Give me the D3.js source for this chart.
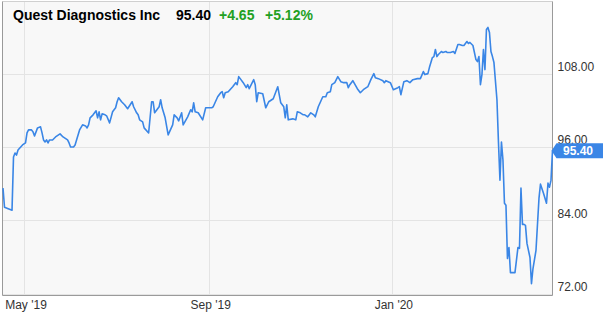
<!DOCTYPE html>
<html>
<head>
<meta charset="utf-8">
<script src="https://cdnjs.cloudflare.com/ajax/libs/d3/7.8.5/d3.min.js"></script>
<style>
  body { margin: 0; background: #fff; }
  svg { display: block; font-family: "Liberation Sans", Arial, sans-serif; }
</style>
</head>
<body>
<svg id="chart" width="603" height="316"></svg>
<script>
const tickerName = "Quest Diagnostics Inc"
const lastPrice = "95.40"
const priceChange = "+4.65"
const pctChange = "+5.12%"

const yTicks = [72, 84, 96, 108]
const xTicks = ["2019-05-01", "2019-09-01", "2020-01-01"]
const xTickLabels = ["May '19", "Sep '19", "Jan '20"]

// daily closes
const dates = [
  "2019-04-17","2019-04-18","2019-04-23","2019-04-24","2019-04-25","2019-04-26","2019-04-27","2019-04-30",
  "2019-05-02","2019-05-03","2019-05-04","2019-05-06","2019-05-07","2019-05-08","2019-05-10","2019-05-12",
  "2019-05-13","2019-05-14","2019-05-15","2019-05-16","2019-05-17","2019-05-18","2019-05-20","2019-05-22",
  "2019-05-24","2019-05-25","2019-05-27","2019-05-30","2019-05-31","2019-06-01","2019-06-03","2019-06-04",
  "2019-06-05","2019-06-07","2019-06-09","2019-06-11","2019-06-12","2019-06-13","2019-06-14","2019-06-16",
  "2019-06-18","2019-06-19","2019-06-20","2019-06-21","2019-06-22","2019-06-24","2019-06-25","2019-06-27",
  "2019-06-29","2019-07-01","2019-07-02","2019-07-03","2019-07-05","2019-07-07","2019-07-09","2019-07-12",
  "2019-07-13","2019-07-15","2019-07-16","2019-07-17","2019-07-19","2019-07-20","2019-07-23","2019-07-25",
  "2019-07-26","2019-07-27","2019-07-28","2019-07-30","2019-07-31","2019-08-01","2019-08-03","2019-08-05",
  "2019-08-08","2019-08-09","2019-08-11","2019-08-12","2019-08-14","2019-08-15","2019-08-18","2019-08-20",
  "2019-08-21","2019-08-22","2019-08-23","2019-08-25","2019-08-28","2019-08-30","2019-09-03","2019-09-04",
  "2019-09-07","2019-09-09","2019-09-10","2019-09-11","2019-09-12","2019-09-14","2019-09-17","2019-09-19",
  "2019-09-20","2019-09-21","2019-09-22","2019-09-24","2019-09-26","2019-09-27","2019-09-28","2019-10-01",
  "2019-10-02","2019-10-03","2019-10-04","2019-10-07","2019-10-09","2019-10-11","2019-10-13","2019-10-14",
  "2019-10-17","2019-10-19","2019-10-21","2019-10-22","2019-10-23","2019-10-24","2019-10-27","2019-10-29",
  "2019-10-30","2019-11-01","2019-11-03","2019-11-04","2019-11-06","2019-11-08","2019-11-10","2019-11-11",
  "2019-11-13","2019-11-16","2019-11-18","2019-11-19","2019-11-21","2019-11-22","2019-11-24","2019-11-26",
  "2019-11-28","2019-11-30","2019-12-02","2019-12-03","2019-12-04","2019-12-06","2019-12-09","2019-12-11",
  "2019-12-13","2019-12-16","2019-12-18","2019-12-20","2019-12-21","2019-12-23","2019-12-26","2019-12-27",
  "2019-12-28","2019-12-31","2020-01-02","2020-01-05","2020-01-06","2020-01-07","2020-01-09","2020-01-11",
  "2020-01-13","2020-01-15","2020-01-18","2020-01-20","2020-01-22","2020-01-23","2020-01-25","2020-01-26",
  "2020-01-28","2020-01-29","2020-01-30","2020-01-31","2020-02-01","2020-02-03","2020-02-04","2020-02-06",
  "2020-02-07","2020-02-09","2020-02-11","2020-02-12","2020-02-14","2020-02-15","2020-02-17","2020-02-18",
  "2020-02-20","2020-02-21","2020-02-22","2020-02-24","2020-02-25","2020-02-26","2020-02-27","2020-02-28",
  "2020-02-29","2020-03-01","2020-03-02","2020-03-03","2020-03-04","2020-03-05","2020-03-06","2020-03-07",
  "2020-03-08","2020-03-09","2020-03-11","2020-03-12","2020-03-13","2020-03-14","2020-03-15","2020-03-16",
  "2020-03-17","2020-03-18","2020-03-19","2020-03-20","2020-03-22","2020-03-23","2020-03-25","2020-03-26",
  "2020-03-27","2020-03-28","2020-03-29","2020-03-30","2020-03-31","2020-04-02","2020-04-03","2020-04-04",
  "2020-04-06","2020-04-08","2020-04-09","2020-04-11","2020-04-13","2020-04-14","2020-04-15","2020-04-16",
  "2020-04-17"
]
const prices = [
  89.26, 86.14, 85.64, 94.36, 95.01, 94.68, 95.51, 96.33,
  96.66, 98.30, 98.79, 98.79, 98.47, 97.81, 99.12, 99.29,
  98.30, 97.15, 96.82, 97.15, 96.66, 97.15, 97.15, 97.64,
  97.97, 98.14, 97.64, 97.15, 96.66, 96.00, 96.00, 96.33,
  97.15, 98.79, 99.62, 99.45, 99.12, 99.62, 100.77, 101.26,
  101.92, 100.77, 101.75, 100.44, 101.42, 101.26, 101.10, 99.94,
  101.75, 102.41, 103.40, 104.05, 103.40, 102.90, 102.25, 103.40,
  102.58, 101.59, 101.26, 100.44, 100.11, 99.12, 98.30, 103.40,
  103.40, 101.59, 101.92, 102.58, 103.73, 102.41, 100.77, 97.97,
  99.62, 101.26, 100.77, 100.27, 101.59, 99.62, 100.93, 102.08,
  101.75, 103.23, 101.75, 101.59, 100.44, 102.41, 102.41, 102.58,
  104.22, 104.88, 105.04, 104.05, 104.88, 105.04, 105.86, 106.52,
  106.19, 107.51, 107.18, 106.52, 105.70, 106.19, 105.53, 107.01,
  106.19, 103.40, 104.88, 104.71, 102.41, 103.40, 103.73, 103.89,
  105.86, 103.23, 102.58, 100.77, 102.90, 100.44, 100.60, 100.44,
  101.75, 101.59, 101.26, 101.26, 100.93, 101.59, 101.26, 100.93,
  102.58, 104.22, 104.22, 104.88, 105.04, 106.19, 106.52, 107.51,
  106.68, 106.52, 106.52, 105.70, 106.19, 106.85, 105.53, 104.88,
  105.37, 105.86, 107.01, 108.00, 107.34, 107.18, 106.85, 106.52,
  106.85, 106.52, 105.37, 105.70, 105.86, 104.55, 106.68, 106.85,
  106.52, 107.01, 107.18, 107.18, 108.33, 107.84, 108.00, 108.99,
  110.63, 110.79, 111.95, 110.79, 111.12, 111.62, 111.45, 111.62,
  111.45, 111.45, 111.62, 111.29, 112.77, 112.77, 112.60, 112.60,
  113.26, 112.93, 113.10, 112.60, 111.45, 110.30, 109.97, 110.79,
  106.19, 107.84, 111.95, 108.66, 115.23, 115.56, 114.74, 111.62,
  110.79, 109.81, 103.73, 96.82, 90.57, 96.82, 93.86, 86.79,
  86.46, 77.75, 79.56, 75.45, 75.45, 75.45, 79.56, 79.40,
  89.26, 83.34, 83.34, 83.18, 80.22, 77.92, 73.64, 76.11,
  79.07, 87.62, 89.92, 88.44, 86.79, 90.08, 89.42, 90.57,
  95.40
]

const width = 603, height = 316
const plot = { left: 2.5, right: 552.5, top: 1.5, bottom: 295.5 }
const lineColor = "#3a86e6"

const parse = d3.timeParse("%Y-%m-%d")
const data = dates.map((d, i) => ({ date: parse(d), price: prices[i] }))

const svg = d3.select("#chart")

const x = d3.scaleTime()
  .domain([new Date(2019, 3, 16, 16), new Date(2020, 3, 17)])
  .range([plot.left, plot.right])

const y = d3.scaleLinear()
  .domain([71.7, 119.8])
  .range([plot.bottom, plot.top])

// plot background
svg.append("rect")
  .attr("x", plot.left).attr("y", plot.top)
  .attr("width", plot.right - plot.left)
  .attr("height", plot.bottom - plot.top)
  .attr("fill", "#f8f8f8")

// grid
svg.append("g").selectAll("line")
  .data(yTicks)
  .enter().append("line")
  .attr("x1", plot.left).attr("x2", plot.right)
  .attr("y1", d => Math.round(y(d)) + 0.5)
  .attr("y2", d => Math.round(y(d)) + 0.5)
  .attr("stroke", "#e4e4e4")

svg.append("g").selectAll("line")
  .data(xTicks)
  .enter().append("line")
  .attr("y1", plot.top).attr("y2", plot.bottom)
  .attr("x1", d => Math.round(x(parse(d))) + 0.5)
  .attr("x2", d => Math.round(x(parse(d))) + 0.5)
  .attr("stroke", "#e4e4e4")

// frame
svg.append("line")
  .attr("x1", plot.left).attr("x2", plot.right)
  .attr("y1", plot.top).attr("y2", plot.top)
  .attr("stroke", "#d0d0d0")
svg.append("path")
  .attr("d", `M${plot.left},${plot.top}V${plot.bottom}H${plot.right}V${plot.top}`)
  .attr("fill", "none")
  .attr("stroke", "#9a9a9a")

// price line
const line = d3.line()
  .x(d => x(d.date))
  .y(d => y(d.price))

svg.append("path")
  .datum(data)
  .attr("d", line)
  .attr("fill", "none")
  .attr("stroke", lineColor)
  .attr("stroke-width", 1.6)
  .attr("stroke-linejoin", "round")

// y axis on the right
const yAxis = d3.axisRight(y)
  .tickValues(yTicks)
  .tickSize(0)
  .tickPadding(5)
  .tickFormat(d3.format(".2f"))

svg.append("g")
  .attr("transform", "translate(" + plot.right + ",0)")
  .call(yAxis)
  .call(g => g.select(".domain").remove())
  .call(g => g.selectAll("text")
    .attr("y", -7)
    .attr("fill", "#333")
    .style("font-size", "12px")
    .style("font-family", "Liberation Sans, Arial, sans-serif"))

// x axis
const xAxis = d3.axisBottom(x)
  .tickValues(xTicks.map(parse))
  .tickSize(0)
  .tickPadding(5)
  .tickFormat((d, i) => xTickLabels[i])

svg.append("g")
  .attr("transform", "translate(1.5," + plot.bottom + ")")
  .call(xAxis)
  .call(g => g.select(".domain").remove())
  .call(g => g.selectAll("text")
    .attr("fill", "#333")
    .style("font-size", "12px")
    .style("font-family", "Liberation Sans, Arial, sans-serif"))

// last price tag (covers the 96.00 label like in the original)
const tagY = y(prices[prices.length - 1])
svg.append("path")
  .attr("d", `M${plot.right - 1},${tagY} L${plot.right + 4},${tagY - 7.5} H${width} V${tagY + 7.5} H${plot.right + 4} Z`)
  .attr("fill", lineColor)
svg.append("text")
  .attr("x", 578)
  .attr("y", tagY)
  .attr("dy", "0.36em")
  .attr("text-anchor", "middle")
  .attr("fill", "#fff")
  .style("font-size", "12px")
  .style("font-weight", "bold")
  .text(lastPrice)

// title
const title = svg.append("g")
  .style("font-size", "14px")
  .style("font-weight", "bold")

title.append("text").attr("x", 13).attr("y", 20).attr("fill", "#000").text(tickerName)
title.append("text").attr("x", 176).attr("y", 20).attr("fill", "#000").text(lastPrice)
title.append("text").attr("x", 219).attr("y", 20).attr("fill", "#22a022").text(priceChange)
title.append("text").attr("x", 265).attr("y", 20).attr("fill", "#22a022").text(pctChange)
</script>
</body>
</html>
